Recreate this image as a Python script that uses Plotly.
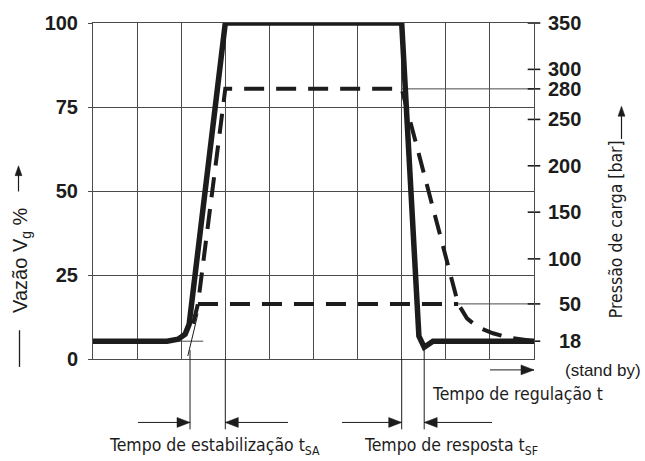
import numpy as np
import plotly.graph_objects as go

# ---- data -------------------------------------------------------------
# regulation time in grid divisions, flow in % of maximum
FLOW_T = [0.0, 1.68, 1.93, 2.09, 2.18, 3.0, 7.0, 7.39, 7.51, 7.71, 10.0]
FLOW_PCT = [5.3, 5.3, 5.9, 7.4, 10.3, 100, 100, 6.8, 3.5, 5.3, 5.3]

# load pressure [bar] for the high-load cycle
PRESS_T = [2.27, 2.38, 3.0, 7.0, 8.28, 8.48, 8.73, 9.07, 9.39, 10.0]
PRESS_BAR = [33, 50, 280, 280, 50, 37.6, 29.9, 24.8, 21.4, 18]

# load pressure [bar] for the low-load cycle
LOW_T = [2.38, 8.28]
LOW_BAR = [50, 50]

# pressure scale: labels and their height on the flow scale (%)
P_TICKS = [18, 50, 100, 150, 200, 250, 280, 300, 350]
P_TICK_POS = [5.3, 16.4, 29.8, 43.7, 57.5, 71.3, 80.4, 86.2, 100]

FLOW_TICKS = [0, 25, 50, 75, 100]

# characteristic instants (grid divisions)
T_SA = [2.20, 3.0]
T_SF = [7.0, 7.51]
STANDBY_BAR = 18


def bar_to_pct(b):
    return np.interp(b, P_TICKS, P_TICK_POS)


INK = "#1c1c1c"
GRID = "#4a4a4a"
SANS = "Liberation Sans, Arial, sans-serif"
COND = "DejaVu Sans Condensed, Liberation Sans, sans-serif"

# figure geometry (pixels) used for the decorations around the plot
W, H = 645, 461
ML, MR, MT, MB = 93, 111, 20, 102
PW, PH = W - ML - MR, H - MT - MB


def px(xp):
    return (xp - ML) / PW


def py(yp):
    return (H - MB - yp) / PH


fig = go.Figure()

# pressure curves (dashed)
fig.add_trace(go.Scatter(x=PRESS_T, y=bar_to_pct(PRESS_BAR), mode="lines",
                         line=dict(color=INK, width=4, dash="20px,12px")))
fig.add_trace(go.Scatter(x=LOW_T, y=bar_to_pct(LOW_BAR), mode="lines",
                         line=dict(color=INK, width=4, dash="20px,12px")))
# flow curve (solid)
fig.add_trace(go.Scatter(x=FLOW_T, y=FLOW_PCT, mode="lines",
                         line=dict(color=INK, width=5.5)))
# pressure scale tick marks on the right border
fig.add_trace(go.Scatter(x=[10] * len(P_TICKS), y=bar_to_pct(P_TICKS), mode="markers",
                         marker=dict(symbol="line-ew", size=9,
                                     line=dict(color=INK, width=1.6)),
                         cliponaxis=False))

shapes = []
# thin reference levels
shapes.append(dict(type="line", xref="x", yref="y", x0=7.0, x1=10,
                   y0=bar_to_pct(280), y1=bar_to_pct(280),
                   line=dict(color=GRID, width=1), layer="below"))
shapes.append(dict(type="line", xref="x", yref="y", x0=8.28, x1=10,
                   y0=bar_to_pct(50), y1=bar_to_pct(50),
                   line=dict(color=GRID, width=1), layer="below"))
shapes.append(dict(type="line", xref="x", yref="y", x0=0, x1=2.5,
                   y0=bar_to_pct(STANDBY_BAR), y1=bar_to_pct(STANDBY_BAR),
                   line=dict(color=GRID, width=1), layer="below"))
# tangent at the start of the rise
shapes.append(dict(type="line", xref="x", yref="y", x0=2.15, y0=0.9, x1=2.38, y1=13.5,
                   line=dict(color=INK, width=1)))


def seg(x0, y0, x1, y1, width=1.0):
    shapes.append(dict(type="line", xref="paper", yref="paper",
                       x0=px(x0), y0=py(y0), x1=px(x1), y1=py(y1),
                       line=dict(color=INK, width=width)))


def head(tx, ty, direction, length=13, half=5):
    # filled triangular arrow head with its tip at (tx, ty) in pixels
    if direction == "right":
        pts = [(tx, ty), (tx - length, ty - half), (tx - length, ty + half)]
    elif direction == "left":
        pts = [(tx, ty), (tx + length, ty - half), (tx + length, ty + half)]
    else:  # up
        pts = [(tx, ty), (tx - half, ty + length), (tx + half, ty + length)]
    path = "M " + " L ".join(f"{px(a):.5f},{py(b):.5f}" for a, b in pts) + " Z"
    shapes.append(dict(type="path", xref="paper", yref="paper", path=path,
                       fillcolor=INK, line=dict(color=INK, width=0.5)))


def tx_px(t):
    return ML + t / 10 * PW


# guide lines below the plot for the time intervals
Y_ARROW, Y_GUIDE_END = 423, 430
seg(tx_px(T_SA[0]), 350, tx_px(T_SA[0]), Y_GUIDE_END)
seg(tx_px(T_SA[1]), 359, tx_px(T_SA[1]), Y_GUIDE_END)
seg(tx_px(T_SF[0]), 359, tx_px(T_SF[0]), Y_GUIDE_END)
seg(tx_px(T_SF[1]), 348, tx_px(T_SF[1]), Y_GUIDE_END)

# interval arrows
seg(138, Y_ARROW, tx_px(T_SA[0]), Y_ARROW)
head(tx_px(T_SA[0]), Y_ARROW, "right")
seg(tx_px(T_SA[1]), Y_ARROW, 288, Y_ARROW)
head(tx_px(T_SA[1]), Y_ARROW, "left")
seg(342, Y_ARROW, tx_px(T_SF[0]), Y_ARROW)
head(tx_px(T_SF[0]), Y_ARROW, "right")
seg(tx_px(T_SF[1]), Y_ARROW, 492, Y_ARROW)
head(tx_px(T_SF[1]), Y_ARROW, "left")

# time direction arrow
seg(490, 370, 534, 370)
head(534, 370, "right")

# axis title arrows and dash
seg(18.5, 190, 18.5, 166, 1.2)
head(18.5, 164, "up", length=10, half=3.5)
seg(621.5, 137, 621.5, 106, 1.2)
head(621.5, 104, "up", length=10, half=3.5)
seg(19.5, 330, 19.5, 367, 1.3)

annotations = []


def label(text, x, y, size, family, angle=0, xanchor="center"):
    annotations.append(dict(xref="paper", yref="paper", x=x, y=y, text=text,
                            showarrow=False, textangle=angle, xanchor=xanchor,
                            yanchor="middle",
                            font=dict(family=family, size=size, color=INK)))


label("Tempo de estabilização t<sub>SA</sub>", px(214), py(447), 17.5, COND)
label("Tempo de resposta t<sub>SF</sub>", px(451), py(447), 17.5, COND)
label("Tempo de regulação t", px(517), py(394), 17.5, COND)
label("(stand by)", px(603), py(371), 17, SANS)
label("Vazão V<sub>g</sub> %", px(22), py(260), 20, SANS, angle=-90)
label("Pressão de carga [bar]", px(616), py(228), 17.5, COND, angle=-90)

# right-hand pressure labels, right aligned
for b, pos in zip(P_TICKS, P_TICK_POS):
    annotations.append(dict(xref="paper", yref="y", x=px(583), y=pos, text=str(b),
                            showarrow=False, xanchor="right", yanchor="middle",
                            font=dict(family=SANS, size=20, color=INK, weight="bold")))

fig.update_layout(
    width=W, height=H,
    margin=dict(l=ML, r=MR, t=MT, b=MB),
    paper_bgcolor="white", plot_bgcolor="white",
    showlegend=False,
    shapes=shapes,
    annotations=annotations,
    xaxis=dict(range=[0, 10], dtick=1, tick0=0, showgrid=True, gridcolor=GRID,
               gridwidth=1, zeroline=False, showticklabels=False, ticks="",
               showline=True, mirror=True, linecolor=GRID, linewidth=1),
    yaxis=dict(range=[0, 100], tickvals=FLOW_TICKS, showgrid=True, gridcolor=GRID,
               gridwidth=1, zeroline=False, ticks="outside", ticklen=4,
               tickcolor=GRID, showline=True, mirror=True, linecolor=GRID,
               linewidth=1, ticklabelstandoff=6,
               tickfont=dict(family=SANS, size=20, color=INK, weight="bold")),
)

fig.write_html("out.html")
